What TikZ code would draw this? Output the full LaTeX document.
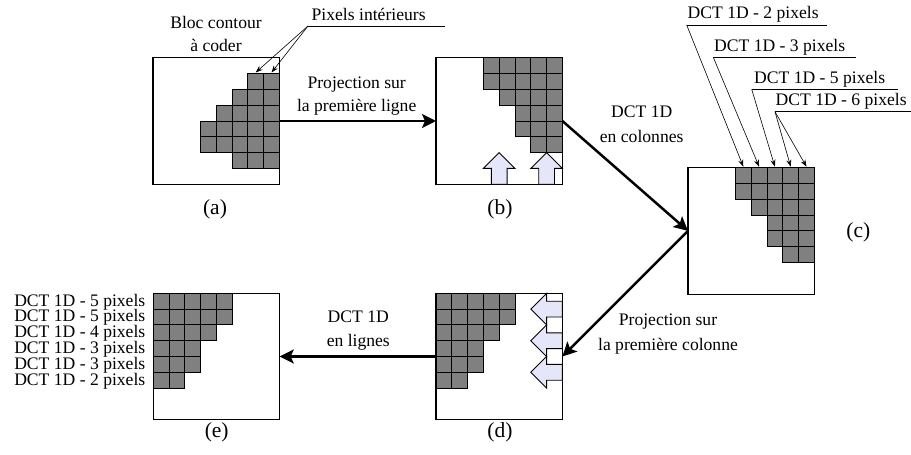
\documentclass[tikz,border=0pt]{standalone}
\usepackage{fontspec}
\setmainfont{Liberation Serif}
\usetikzlibrary{arrows.meta}
\definecolor{pixgray}{RGB}{128,128,128}
\definecolor{lav}{RGB}{230,230,250}
\newcommand\drawcells[1]{%
  \foreach \rr/\fc/\lc in {#1}{\foreach \cc in {\fc,...,\lc}{\draw[pix] (\cc,\rr) rectangle ++(1,1);}}}
\begin{document}
\begin{tikzpicture}[x=1pt,y=-1pt,
  font=\fontsize{17.6}{20}\selectfont,
  blk/.style={draw, line width=1.2pt, minimum size=126.4pt, inner sep=0pt, outer sep=0pt, anchor=north west},
  pix/.style={draw, line width=1pt, fill=pixgray},
  proj/.style={draw, line width=0.9pt, fill=lav},
  bigarrow/.style={line width=2.5pt, -{Stealth[length=14pt,width=14pt,inset=3pt]}},
  lead/.style={line width=0.6pt, -{Stealth[length=7pt,width=5pt]}},
  uline/.style={line width=0.7pt},
  txt/.style={inner sep=0pt, anchor=base},
  boxlab/.style={txt, font=\fontsize{21.5}{24}\selectfont},
]
\useasboundingbox (0,0) rectangle (911,455);

% boxes
\node[blk] (a) at (153,57.8) {};
\node[blk] (b) at (436,57.8) {};
\node[blk] (c) at (688,167.7) {};
\node[blk] (d) at (436,293.3) {};
\node[blk] (e) at (153.3,293.3) {};

% cells (a)
\begin{scope}[shift={(153,57.8)}, x=15.8pt, y=-15.8pt]
  \drawcells{1/6/7,2/5/7,3/4/7,4/3/7,5/3/7,6/5/7}
\end{scope}
% cells (b) + arrows
\begin{scope}[shift={(436,57.8)}, x=15.8pt, y=-15.8pt]
  \drawcells{0/3/7,1/3/7,2/4/7,3/5/7,4/5/7,5/6/7}
  \foreach \X in {4,7}{
    \draw[proj] (\X,6) -- (\X+1,7) -- (\X+0.5,7) -- (\X+0.5,8) -- (\X-0.5,8) -- (\X-0.5,7) -- (\X-1,7) -- cycle;}
\end{scope}
% cells (c)
\begin{scope}[shift={(688,167.7)}, x=15.8pt, y=-15.8pt]
  \drawcells{0/3/7,1/3/7,2/4/7,3/5/7,4/5/7,5/6/7}
\end{scope}
% cells (d) + arrows
\begin{scope}[shift={(436,293.3)}, x=15.8pt, y=-15.8pt]
  \drawcells{0/0/4,1/0/4,2/0/3,3/0/2,4/0/2,5/0/1}
  \foreach \Y in {1,3,5}{
    \draw[proj] (6,\Y) -- (7,\Y-1) -- (7,\Y-0.5) -- (8,\Y-0.5) -- (8,\Y+0.5) -- (7,\Y+0.5) -- (7,\Y+1) -- cycle;}
\end{scope}
% cells (e)
\begin{scope}[shift={(153.3,293.3)}, x=15.8pt, y=-15.8pt]
  \drawcells{0/0/4,1/0/4,2/0/3,3/0/2,4/0/2,5/0/1}
\end{scope}

% box labels
\node[boxlab] (la) at (215,214) {(a)};
\node[boxlab] (lb) at (500,214) {(b)};
\node[boxlab] (lc) at (858.3,237) {(c)};
\node[boxlab] (ld) at (500,437) {(d)};
\node[boxlab] (le) at (216.7,437) {(e)};

% big arrows
\draw[bigarrow] (a.east) -- (b.west);
\draw[bigarrow] (b.east) -- (c.west);
\draw[bigarrow] (c.west) -- (d.east);
\draw[bigarrow] (d.west) -- (e.east);

% arrow labels
\node[txt] (t1) at (356.7,88.3) {Projection sur};
\node[txt] (t2) at (356.7,111.7) {la première ligne};
\node[txt] (t3) at (641.7,117.3) {DCT 1D};
\node[txt] (t4) at (641.7,142.3) {en colonnes};
\node[txt] (t5) at (668,325) {Projection sur};
\node[txt] (t6) at (668,350) {la première colonne};
\node[txt] (t7) at (358.3,322.3) {DCT 1D};
\node[txt] (t8) at (358.3,346.5) {en lignes};

% (a) annotations
\node[txt] (bc1) at (216,28.3) {Bloc contour};
\node[txt] (bc2) at (216,51.7) {à coder};
\coordinate (upi) at (308,26);
\node[txt, anchor=base west] (pi) at (311.5,20) {Pixels intérieurs};
\draw[uline] (upi) -- ++(137,0);
\coordinate (a6) at ({153+6.5*15.8},72.5);
\coordinate (a7) at ({153+7.5*15.8},72.5);
\draw[lead] (upi) -- (a6);
\draw[lead] (upi) -- (a7);

% (c) annotations
\coordinate (u2) at (686.7,25);
\coordinate (u3) at (713.3,57.3);
\coordinate (u5) at (751.7,89.3);
\coordinate (u6) at (775,111.7);
\node[txt, anchor=base west] (d2) at (687.5,19) {DCT 1D - 2 pixels};
\node[txt, anchor=base west] (d3) at (714,51.3) {DCT 1D - 3 pixels};
\node[txt, anchor=base west] (d5) at (754,83.3) {DCT 1D - 5 pixels};
\node[txt, anchor=base west] (d6) at (775.5,105.7) {DCT 1D - 6 pixels};
\draw[uline] (u2) -- ++(140,0);
\draw[uline] (u3) -- ++(142.4,0);
\draw[uline] (u5) -- ++(146.6,0);
\draw[uline] (u6) -- ++(140,0);
\foreach \k in {3,...,7}{\coordinate (c\k) at ({688+(\k+0.5)*15.8},166.7);}
\draw[lead] (u2) -- (c3);
\draw[lead] (u3) -- (c4);
\draw[lead] (u5) -- (c5);
\draw[lead] (u6) -- (c6);
\draw[lead] (u6) -- (c7);

% (e) row labels
\foreach \r/\n in {0/5,1/5,2/4,3/3,4/3,5/2}{
  \node[txt, anchor=base east] (er\r) at (145.5,{293.3+(\r+0.5)*15.8+4.8}) {DCT 1D - \n\ pixels};}
\end{tikzpicture}
\end{document}
